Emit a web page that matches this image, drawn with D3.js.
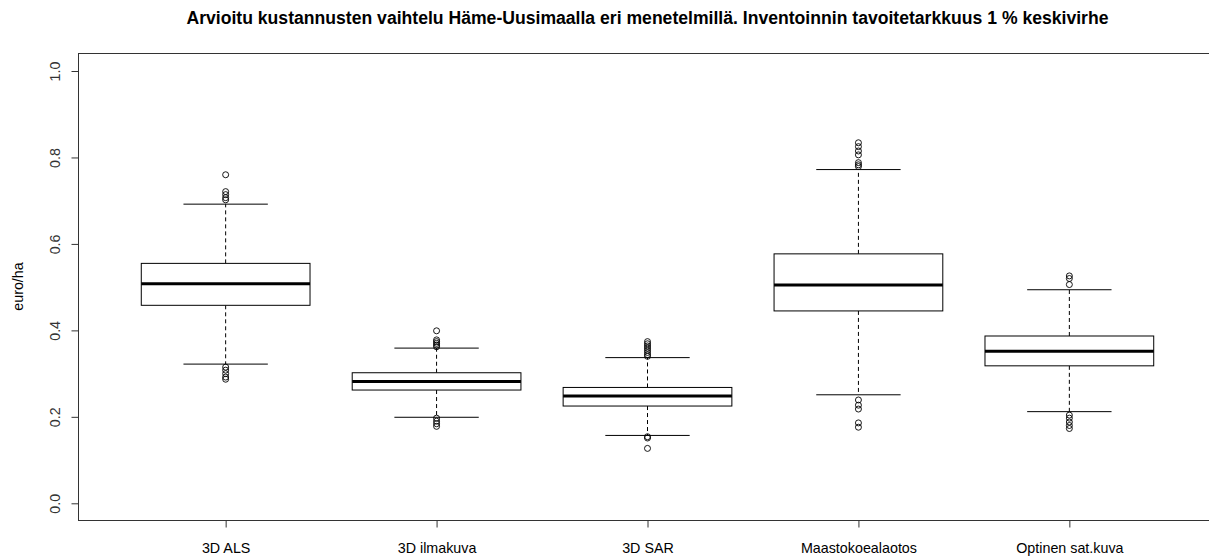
<!DOCTYPE html>
<html>
<head>
<meta charset="utf-8">
<script src="https://cdn.jsdelivr.net/npm/d3@7"></script>
<style>
  html, body { margin: 0; padding: 0; background: #fff; }
  svg { display: block; font-family: "Liberation Sans", Arial, sans-serif; }
</style>
</head>
<body>
<svg id="chart" width="1209" height="557"></svg>
<script>
// Methods compared
const categories = ["3D ALS", "3D ilmakuva", "3D SAR", "Maastokoealaotos", "Optinen sat.kuva"];

// Five-number summaries (euro/ha)
const lowerWhisker = [0.322, 0.199, 0.157, 0.251, 0.212];
const q1           = [0.458, 0.262, 0.225, 0.445, 0.318];
const medians      = [0.508, 0.282, 0.248, 0.505, 0.352];
const q3           = [0.555, 0.302, 0.268, 0.577, 0.387];
const upperWhisker = [0.692, 0.359, 0.337, 0.772, 0.494];

// Outlying simulations per method
const outliers = [
  [0.760, 0.721, 0.714, 0.707, 0.702, 0.315, 0.308, 0.300, 0.292, 0.287],
  [0.399, 0.378, 0.374, 0.370, 0.366, 0.362, 0.197, 0.190, 0.184, 0.178],
  [0.374, 0.369, 0.364, 0.359, 0.354, 0.349, 0.344, 0.340, 0.154, 0.151, 0.127],
  [0.834, 0.825, 0.815, 0.806, 0.788, 0.783, 0.779, 0.239, 0.227, 0.218, 0.186, 0.176],
  [0.526, 0.520, 0.506, 0.204, 0.197, 0.188, 0.180, 0.173]
];

const yTicks = [0.0, 0.2, 0.4, 0.6, 0.8, 1.0];
const title = "Arvioitu kustannusten vaihtelu Häme-Uusimaalla eri menetelmillä. Inventoinnin tavoitetarkkuus 1 % keskivirhe";
const yTitle = "euro/ha";

const svg = d3.select("#chart");
const plot = { left: 78, right: 1217, top: 53, bottom: 520 };

const x = d3.scaleLinear().domain([0.3, categories.length + 0.7]).range([plot.left, plot.right]);
const y = d3.scaleLinear().domain([0, 1]).range([503.3, 71]);

const boxW = x(1.8) - x(1);      // boxwex 0.8
const capW = boxW / 2;           // staple width

// Plot frame
svg.append("rect")
  .attr("x", plot.left + 0.5).attr("y", plot.top + 0.5)
  .attr("width", plot.right - plot.left).attr("height", plot.bottom - plot.top)
  .attr("fill", "none").attr("stroke", "#333").attr("stroke-width", 1);

// Y axis
const yAxis = d3.axisLeft(y).tickValues(yTicks).tickFormat(d3.format(".1f")).tickSize(7).tickSizeOuter(0);
const gy = svg.append("g").attr("transform", `translate(${plot.left + 0.5},0)`).call(yAxis);
gy.select(".domain").remove();
gy.selectAll(".tick line").attr("stroke", "#333");
gy.selectAll(".tick text")
  .attr("x", 0).attr("dy", 0).attr("dx", 0)
  .attr("transform", "translate(-19,0) rotate(-90)")
  .attr("text-anchor", "middle")
  .attr("font-size", 14.3).attr("fill", "#333")
  .attr("font-family", "Liberation Sans, Arial, sans-serif");

// X axis
const xAxis = d3.axisBottom(x).tickValues(d3.range(1, categories.length + 1))
  .tickFormat(i => categories[i - 1]).tickSize(7).tickSizeOuter(0);
const gx = svg.append("g").attr("transform", `translate(0,${plot.bottom + 0.5})`).call(xAxis);
gx.select(".domain").remove();
gx.selectAll(".tick line").attr("stroke", "#333");
gx.selectAll(".tick text")
  .attr("y", 27).attr("dy", "0.35em")
  .attr("font-size", 14.3).attr("fill", "#000")
  .attr("font-family", "Liberation Sans, Arial, sans-serif");

// Titles
svg.append("text")
  .attr("x", (plot.left + plot.right) / 2).attr("y", 24)
  .attr("text-anchor", "middle").attr("font-weight", "bold").attr("font-size", 17.6)
  .attr("fill", "#000").text(title);

svg.append("text")
  .attr("transform", `translate(23,${(plot.top + plot.bottom) / 2}) rotate(-90)`)
  .attr("text-anchor", "middle").attr("font-size", 14.3).attr("fill", "#000")
  .text(yTitle);

// Boxes
const data = categories.map((c, i) => ({
  i: i + 1, lw: lowerWhisker[i], q1: q1[i], med: medians[i], q3: q3[i], uw: upperWhisker[i], out: outliers[i]
}));

const g = svg.append("g");
const boxes = g.selectAll("g.box").data(data).join("g").attr("class", "box");

// dashed whiskers
boxes.append("line")
  .attr("x1", d => x(d.i)).attr("x2", d => x(d.i))
  .attr("y1", d => y(d.q3)).attr("y2", d => y(d.uw))
  .attr("stroke", "#000").attr("stroke-dasharray", "4,3");
boxes.append("line")
  .attr("x1", d => x(d.i)).attr("x2", d => x(d.i))
  .attr("y1", d => y(d.q1)).attr("y2", d => y(d.lw))
  .attr("stroke", "#000").attr("stroke-dasharray", "4,3");

// staples
boxes.append("line")
  .attr("x1", d => x(d.i) - capW / 2).attr("x2", d => x(d.i) + capW / 2)
  .attr("y1", d => y(d.uw)).attr("y2", d => y(d.uw))
  .attr("stroke", "#000");
boxes.append("line")
  .attr("x1", d => x(d.i) - capW / 2).attr("x2", d => x(d.i) + capW / 2)
  .attr("y1", d => y(d.lw)).attr("y2", d => y(d.lw))
  .attr("stroke", "#000");

// box body
boxes.append("rect")
  .attr("x", d => x(d.i) - boxW / 2).attr("width", boxW)
  .attr("y", d => y(d.q3)).attr("height", d => y(d.q1) - y(d.q3))
  .attr("fill", "#fff").attr("stroke", "#000").attr("stroke-width", 1);

// median
boxes.append("line")
  .attr("x1", d => x(d.i) - boxW / 2).attr("x2", d => x(d.i) + boxW / 2)
  .attr("y1", d => y(d.med)).attr("y2", d => y(d.med))
  .attr("stroke", "#000").attr("stroke-width", 3);

// outliers
boxes.selectAll("circle").data(d => d.out.map(v => ({ i: d.i, v })))
  .join("circle")
  .attr("cx", d => x(d.i)).attr("cy", d => y(d.v)).attr("r", 3)
  .attr("fill", "none").attr("stroke", "#000").attr("stroke-width", 0.9);
</script>
</body>
</html>
